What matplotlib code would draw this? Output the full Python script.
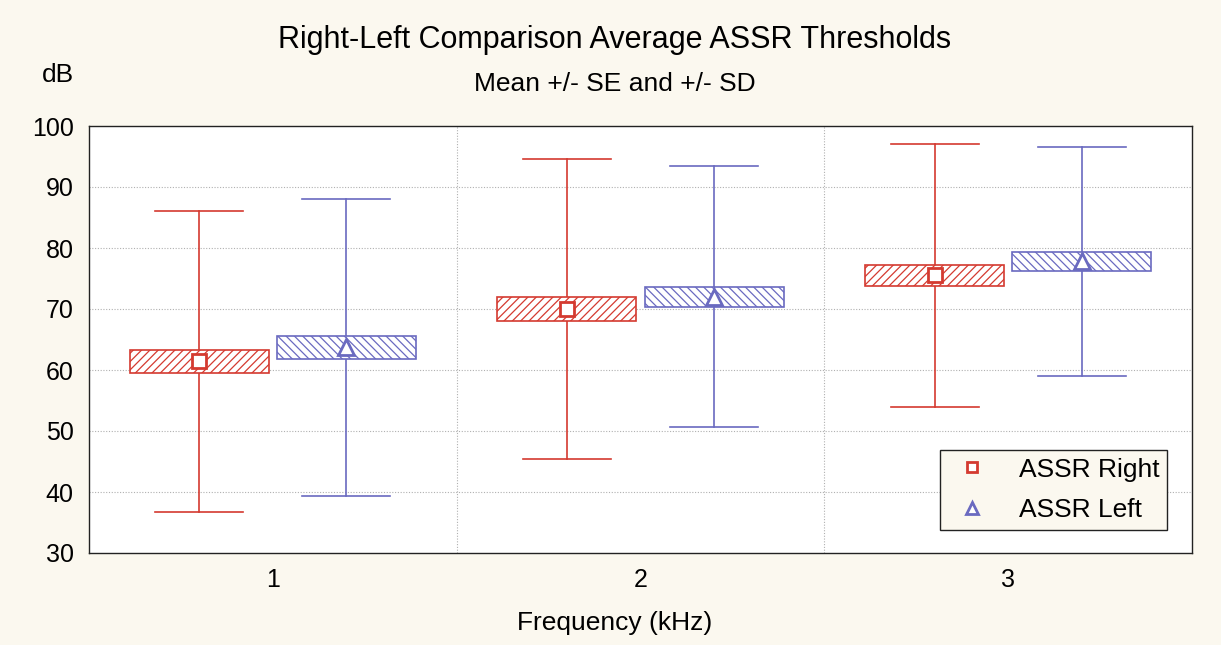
import matplotlib
matplotlib.use("Agg")
import matplotlib.pyplot as plt
import numpy as np

plt.rcParams['font.family'] = ['Liberation Sans', 'DejaVu Sans']
plt.rcParams['hatch.linewidth'] = 0.9

categories = [1, 2, 3]
right_mean = [61.4, 70.0, 75.5]
right_se = [1.85, 1.95, 1.65]
right_sd = [24.7, 24.6, 21.5]
left_mean = [63.7, 72.0, 77.8]
left_se = [1.9, 1.65, 1.5]
left_sd = [24.3, 21.4, 18.8]

red = '#d43a30'
blue = '#6a6ac0'
bg = '#fbf8ef'

fig = plt.figure(figsize=(12.21, 6.45), dpi=100, facecolor=bg)
ax = fig.add_axes([89/1221, 1 - 553/645, (1192-89)/1221, (553-126)/645])
ax.set_facecolor('white')

offset = 0.2
box_w = 0.378
cap_w = 0.24

def draw(xs, means, ses, sds, color, hatch, marker, msize, label):
    for x, m, se, sd in zip(xs, means, ses, sds):
        ax.plot([x, x], [m - sd, m + sd], color=color, lw=1.2, zorder=2)
        ax.plot([x - cap_w/2, x + cap_w/2], [m + sd, m + sd], color=color, lw=1.2, zorder=2)
        ax.plot([x - cap_w/2, x + cap_w/2], [m - sd, m - sd], color=color, lw=1.2, zorder=2)
        r = plt.Rectangle((x - box_w/2, m - se), box_w, 2*se, facecolor='white',
                          edgecolor=color, hatch=hatch, lw=1.2, zorder=3)
        ax.add_patch(r)
    ax.plot(xs, means, linestyle='none', marker=marker, ms=msize, mfc='white',
            mec=color, mew=2, zorder=4, label=label)

xr = [c - offset for c in categories]
xl = [c + offset for c in categories]
draw(xr, right_mean, right_se, right_sd, red, '////', 's', 10, 'ASSR Right')
draw(xl, left_mean, left_se, left_sd, blue, '\\\\\\\\', '^', 11, 'ASSR Left')

ax.set_xlim(0.5, 3.5)
ax.set_ylim(30, 100)
ax.set_xticks(categories)
ax.set_xticklabels([str(c) for c in categories])
ax.set_yticks(np.arange(30, 101, 10))
ax.tick_params(length=0, labelsize=18)
ax.tick_params(axis='y', pad=11)
ax.tick_params(axis='x', pad=11)
for y in range(40, 100, 10):
    ax.axhline(y, color='#b0b0b0', lw=0.8, ls=(0, (1, 1.5)), zorder=0)
for x in [1.5, 2.5]:
    ax.axvline(x, color='#b0b0b0', lw=0.8, ls=(0, (1, 1.5)), zorder=0)
for s in ax.spines.values():
    s.set_linewidth(1.0)
    s.set_color('#222222')

fig.text(615/1221, 1 - 40/645, 'Right-Left Comparison Average ASSR Thresholds',
         ha='center', va='center', fontsize=22)
fig.text(615/1221, 1 - 84/645, 'Mean +/- SE and +/- SD', ha='center', va='center', fontsize=19)
fig.text(58/1221, 1 - 75/645, 'dB', ha='center', va='center', fontsize=19)
fig.text(615/1221, 1 - 623/645, 'Frequency (kHz)', ha='center', va='center', fontsize=19)

leg = ax.legend(loc='lower right', bbox_to_anchor=(1167/1221, 1 - 530/645),
                bbox_transform=fig.transFigure, fontsize=19, frameon=True,
                fancybox=False, edgecolor='#222222', facecolor=bg, framealpha=1,
                handletextpad=0.85, borderpad=0.29, labelspacing=0.63, markerscale=0.75,
                handlelength=1.85, borderaxespad=0)
leg.get_frame().set_linewidth(1.0)

fig.savefig('out.png', dpi=100, facecolor=bg)
